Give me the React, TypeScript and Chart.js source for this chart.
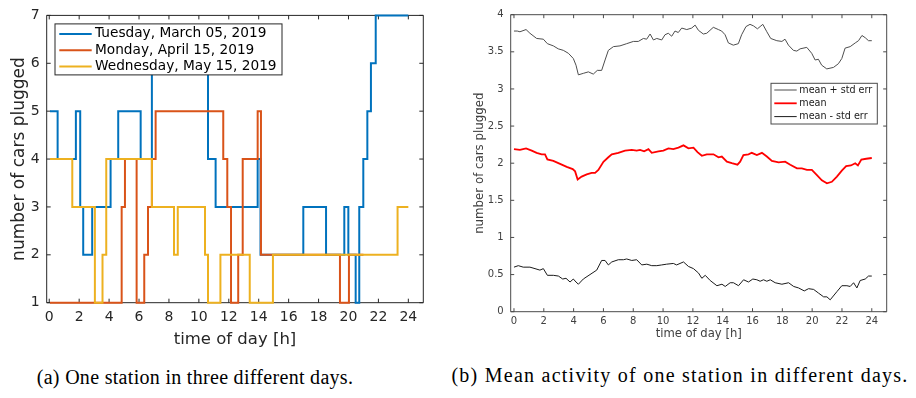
import React, { useEffect, useRef } from 'react';
import { Chart, registerables } from 'chart.js';

Chart.register(...registerables);

// ---------- (a) One station in three different days ----------
const dayLabels = ['Tuesday, March 05, 2019', 'Monday, April 15, 2019', 'Wednesday, May 15, 2019'];
const dayColors = ['#0072BD', '#D95319', '#EDB120'];

const tuesdayTimes = [0.05, 0.56, 1.78, 2.07, 2.27, 2.87, 4.1, 4.61, 6.11, 6.86, 10.61, 11.12, 13.93, 14.12, 16.98, 18.5, 19.72, 19.99, 20.48, 20.72, 20.99, 21.26, 21.5, 21.82, 24.0];
const tuesdayCars = [5, 4, 5, 3, 2, 3, 4, 5, 4, 6, 4, 3, 4, 2, 3, 2, 3, 2, 1, 3, 4, 5, 6, 7, 7];

const mondayTimes = [0.05, 4.84, 5.06, 5.84, 6.35, 6.6, 6.86, 7.11, 11.63, 11.9, 12.15, 12.63, 12.93, 13.93, 14.15, 19.43, 20.03, 21.0];
const mondayCars = [1, 3, 4, 1, 2, 3, 4, 5, 4, 3, 1, 2, 4, 5, 2, 1, 2, 2];

const wednesdayTimes = [0.05, 1.54, 3.05, 3.56, 3.81, 6.86, 8.34, 8.59, 10.41, 10.61, 11.44, 13.4, 14.95, 23.28, 24.0];
const wednesdayCars = [4, 3, 1, 2, 4, 3, 2, 3, 2, 1, 2, 1, 2, 3, 3];

const hourTicks = [0, 2, 4, 6, 8, 10, 12, 14, 16, 18, 20, 22, 24];
const carTicks = [1, 2, 3, 4, 5, 6, 7];

// ---------- (b) Mean activity of one station ----------
const meanLabels = ['mean + std err', 'mean', 'mean - std err'];
const meanColors = ['#4d4d4d', '#ff0000', '#1a1a1a'];

const upperTimes = [0, 0.22, 0.4, 0.81, 1.07, 1.52, 1.97, 2.24, 2.64, 2.97, 3.31, 3.65, 3.98, 4.16, 4.32, 4.65, 4.99, 5.32, 5.59, 5.88, 6.11, 6.33, 6.67, 7.11, 7.56, 8.01, 8.34, 8.68, 8.9, 9.13, 9.35, 9.58, 9.91, 10.13, 10.35, 10.58, 10.8, 11.02, 11.25, 11.59, 11.92, 12.15, 12.37, 12.7, 12.93, 13.37, 13.71, 13.93, 14.16, 14.38, 14.71, 15.05, 15.27, 15.56, 15.83, 16.06, 16.33, 16.51, 16.69, 16.96, 17.22, 17.63, 17.97, 18.18, 18.41, 18.74, 18.97, 19.19, 19.64, 19.97, 20.2, 20.42, 20.64, 20.98, 21.43, 21.76, 21.99, 22.21, 22.55, 22.89, 23.11, 23.34, 23.56, 23.78, 24];
const upperValues = [3.78, 3.78, 3.77, 3.8, 3.75, 3.68, 3.67, 3.61, 3.58, 3.54, 3.52, 3.48, 3.41, 3.32, 3.19, 3.21, 3.23, 3.2, 3.25, 3.25, 3.39, 3.52, 3.57, 3.58, 3.61, 3.64, 3.64, 3.68, 3.67, 3.74, 3.66, 3.68, 3.66, 3.73, 3.75, 3.71, 3.78, 3.76, 3.82, 3.8, 3.82, 3.86, 3.79, 3.74, 3.75, 3.83, 3.8, 3.78, 3.73, 3.62, 3.59, 3.61, 3.73, 3.84, 3.87, 3.85, 3.81, 3.84, 3.87, 3.77, 3.68, 3.65, 3.64, 3.67, 3.59, 3.52, 3.51, 3.54, 3.56, 3.48, 3.39, 3.4, 3.32, 3.27, 3.29, 3.34, 3.41, 3.55, 3.57, 3.62, 3.65, 3.72, 3.69, 3.65, 3.65];

const meanTimes = [0, 0.4, 0.81, 1.19, 1.52, 1.86, 2.08, 2.24, 2.64, 3.09, 3.54, 3.94, 4.1, 4.27, 4.54, 4.88, 5.21, 5.44, 5.66, 6.0, 6.33, 6.56, 7.0, 7.45, 7.9, 8.23, 8.46, 8.73, 9.02, 9.24, 9.69, 10.02, 10.36, 10.69, 11.03, 11.37, 11.7, 12.04, 12.31, 12.6, 12.93, 13.38, 13.72, 13.94, 14.28, 14.61, 14.99, 15.17, 15.39, 15.73, 15.95, 16.29, 16.63, 16.96, 17.3, 17.75, 18.19, 18.53, 18.98, 19.31, 19.65, 19.98, 20.32, 20.65, 20.99, 21.32, 21.66, 21.99, 22.28, 22.6, 22.89, 23.07, 23.3, 23.63, 24];
const meanValues = [2.19, 2.18, 2.2, 2.17, 2.14, 2.12, 2.12, 2.05, 2.03, 1.99, 1.95, 1.92, 1.89, 1.78, 1.82, 1.85, 1.87, 1.87, 1.91, 2.02, 2.08, 2.12, 2.14, 2.17, 2.18, 2.17, 2.18, 2.16, 2.19, 2.14, 2.16, 2.17, 2.2, 2.19, 2.21, 2.24, 2.2, 2.21, 2.15, 2.1, 2.12, 2.12, 2.08, 2.09, 2.02, 2.0, 1.98, 2.02, 2.11, 2.12, 2.14, 2.11, 2.14, 2.09, 2.03, 2.01, 2.02, 1.98, 1.93, 1.93, 1.91, 1.91, 1.84, 1.77, 1.73, 1.75, 1.82, 1.9, 1.96, 1.97, 2.0, 1.97, 2.05, 2.06, 2.07];

const lowerTimes = [0, 0.29, 0.62, 1.07, 1.41, 1.74, 1.97, 2.24, 2.64, 2.98, 3.27, 3.49, 3.76, 3.98, 4.16, 4.32, 4.65, 5.1, 5.55, 5.88, 6.11, 6.33, 6.56, 7.0, 7.34, 7.56, 7.9, 8.23, 8.57, 8.91, 9.24, 9.58, 9.91, 10.24, 10.69, 10.91, 11.37, 11.7, 12.04, 12.38, 12.6, 12.83, 13.16, 13.61, 13.95, 14.17, 14.5, 14.72, 15.06, 15.4, 15.73, 16.02, 16.29, 16.51, 16.74, 16.96, 17.19, 17.52, 17.97, 18.42, 18.76, 19.09, 19.47, 19.76, 20.1, 20.43, 20.77, 20.99, 21.21, 21.66, 21.99, 22.33, 22.55, 22.78, 23.0, 23.22, 23.56, 23.78, 24];
const lowerValues = [0.6, 0.62, 0.6, 0.6, 0.58, 0.56, 0.58, 0.49, 0.49, 0.48, 0.44, 0.45, 0.4, 0.44, 0.4, 0.37, 0.44, 0.5, 0.56, 0.69, 0.69, 0.63, 0.67, 0.7, 0.7, 0.71, 0.69, 0.7, 0.63, 0.64, 0.62, 0.62, 0.63, 0.64, 0.65, 0.63, 0.67, 0.61, 0.58, 0.52, 0.45, 0.49, 0.42, 0.35, 0.37, 0.34, 0.39, 0.39, 0.35, 0.43, 0.4, 0.44, 0.43, 0.41, 0.43, 0.41, 0.43, 0.39, 0.37, 0.39, 0.34, 0.32, 0.28, 0.31, 0.3, 0.25, 0.2, 0.2, 0.16, 0.27, 0.35, 0.35, 0.34, 0.39, 0.32, 0.42, 0.44, 0.48, 0.48];

const meanTicks = [0, 0.5, 1, 1.5, 2, 2.5, 3, 3.5, 4];

const captionA = '(a) One station in three different days.';
const captionB = '(b) Mean activity of one station in different days.';

const pts = (xs: number[], ys: number[]) => xs.map((x, i) => ({ x, y: ys[i] }));

// MATLAB-like box with inward ticks on all four sides, plus a boxed legend
const matlabAxes = {
  id: 'matlabAxes',
  beforeDatasetsDraw(chart: any, _args: any, opts: any) {
    const { ctx, chartArea: a, scales } = chart;
    const x = scales.x;
    const y = scales.y;
    const tl = opts.tickLength;
    ctx.save();
    ctx.strokeStyle = opts.color;
    ctx.lineWidth = opts.lineWidth;
    ctx.beginPath();
    ctx.rect(a.left, a.top, a.right - a.left, a.bottom - a.top);
    for (const t of x.ticks) {
      const px = x.getPixelForValue(t.value);
      ctx.moveTo(px, a.bottom);
      ctx.lineTo(px, a.bottom - tl);
      ctx.moveTo(px, a.top);
      ctx.lineTo(px, a.top + tl);
    }
    for (const t of y.ticks) {
      const py = y.getPixelForValue(t.value);
      ctx.moveTo(a.left, py);
      ctx.lineTo(a.left + tl, py);
      ctx.moveTo(a.right, py);
      ctx.lineTo(a.right - tl, py);
    }
    ctx.stroke();
    ctx.restore();
  },
  afterDatasetsDraw(chart: any, _args: any, opts: any) {
    const lg = opts.legend;
    if (!lg) return;
    const { ctx, chartArea: a } = chart;
    const bx = lg.fromRight != null ? a.right - lg.fromRight - lg.w : a.left + lg.dx;
    const by = a.top + lg.dy;
    ctx.save();
    ctx.fillStyle = '#ffffff';
    ctx.fillRect(bx, by, lg.w, lg.h);
    ctx.strokeStyle = lg.border;
    ctx.lineWidth = 1;
    ctx.strokeRect(bx, by, lg.w, lg.h);
    ctx.font = `${lg.fontSize}px "DejaVu Sans"`;
    ctx.textBaseline = 'middle';
    ctx.textAlign = 'left';
    chart.data.datasets.forEach((ds: any, i: number) => {
      const ry = by + lg.row0 + i * lg.rowGap;
      ctx.strokeStyle = ds.borderColor;
      ctx.lineWidth = ds.borderWidth;
      ctx.beginPath();
      ctx.moveTo(bx + lg.lineX, ry);
      ctx.lineTo(bx + lg.lineX + lg.lineLen, ry);
      ctx.stroke();
      ctx.fillStyle = lg.textColor;
      ctx.fillText(ds.label, bx + lg.textX, ry);
    });
    ctx.restore();
  },
};

const fixedTicks = (values: number[]) => (s: any) => {
  s.ticks = values.map((v) => ({ value: v }));
};

export default function App() {
  const leftRef = useRef<HTMLCanvasElement>(null);
  const rightRef = useRef<HTMLCanvasElement>(null);

  useEffect(() => {
    const axisColor = '#262626';
    const left = new Chart(leftRef.current as HTMLCanvasElement, {
      type: 'line',
      data: {
        datasets: [
          { label: dayLabels[0], data: pts(tuesdayTimes, tuesdayCars), borderColor: dayColors[0], borderWidth: 2, stepped: 'before', pointRadius: 0, order: 3, clip: 3 },
          { label: dayLabels[1], data: pts(mondayTimes, mondayCars), borderColor: dayColors[1], borderWidth: 2, stepped: 'before', pointRadius: 0, order: 2, clip: 3 },
          { label: dayLabels[2], data: pts(wednesdayTimes, wednesdayCars), borderColor: dayColors[2], borderWidth: 2, stepped: 'before', pointRadius: 0, order: 1, clip: 3 },
        ] as any,
      },
      options: {
        responsive: false,
        animation: false,
        devicePixelRatio: 1,
        layout: { padding: { left: 0, top: 13.5, right: 12.7, bottom: 0 } },
        plugins: {
          legend: { display: false },
          tooltip: { enabled: false },
          matlabAxes: {
            color: axisColor,
            lineWidth: 1,
            tickLength: 4,
            legend: { dx: 8.3, dy: 8.5, w: 227, h: 51, row0: 10, rowGap: 16.3, lineX: 4.3, lineLen: 32.4, textX: 40, fontSize: 13.7, border: '#262626', textColor: '#000' },
          },
        } as any,
        scales: {
          x: {
            type: 'linear',
            min: -0.17,
            max: 25,
            afterBuildTicks: fixedTicks(hourTicks),
            afterFit: (s: any) => { s.height = 49.3; },
            grid: { display: false, drawTicks: false },
            border: { display: false },
            ticks: { padding: 6, color: axisColor, font: { family: 'DejaVu Sans', size: 14 }, maxRotation: 0, autoSkip: false, callback: (v: any) => String(v) },
            title: { display: true, text: 'time of day [h]', color: axisColor, font: { family: 'DejaVu Sans', size: 16.5 }, padding: { top: 0, bottom: 2 } },
          },
          y: {
            type: 'linear',
            min: 1,
            max: 7,
            afterBuildTicks: fixedTicks(carTicks),
            afterFit: (s: any) => { s.width = 46.7; },
            grid: { display: false, drawTicks: false },
            border: { display: false },
            ticks: { padding: 7, color: axisColor, font: { family: 'DejaVu Sans', size: 14 }, autoSkip: false, callback: (v: any) => String(v) },
            title: { display: true, text: 'number of cars plugged', color: axisColor, font: { family: 'DejaVu Sans', size: 17 }, padding: { top: 9, bottom: 0 } },
          },
        },
      } as any,
      plugins: [matlabAxes as any],
    });

    const right = new Chart(rightRef.current as HTMLCanvasElement, {
      type: 'line',
      data: {
        datasets: [
          { label: meanLabels[0], data: pts(upperTimes, upperValues), borderColor: meanColors[0], borderWidth: 1, pointRadius: 0 },
          { label: meanLabels[1], data: pts(meanTimes, meanValues), borderColor: meanColors[1], borderWidth: 1.8, pointRadius: 0 },
          { label: meanLabels[2], data: pts(lowerTimes, lowerValues), borderColor: meanColors[2], borderWidth: 1, pointRadius: 0 },
        ] as any,
      },
      options: {
        responsive: false,
        animation: false,
        devicePixelRatio: 1,
        layout: { padding: { left: 0, top: 14.7, right: 29.3, bottom: 0 } },
        plugins: {
          legend: { display: false },
          tooltip: { enabled: false },
          matlabAxes: {
            color: '#4a4a4a',
            lineWidth: 1,
            tickLength: 3.5,
            legend: { fromRight: 9.4, dy: 68.6, w: 106.3, h: 40.7, row0: 6.7, rowGap: 13.3, lineX: 3.3, lineLen: 22.4, textX: 28.3, fontSize: 9.6, border: '#4a4a4a', textColor: '#1a1a1a' },
          },
        } as any,
        scales: {
          x: {
            type: 'linear',
            min: -0.22,
            max: 25,
            afterBuildTicks: fixedTicks(hourTicks),
            afterFit: (s: any) => { s.height = 40.3; },
            grid: { display: false, drawTicks: false },
            border: { display: false },
            ticks: { padding: 4, color: '#404040', font: { family: 'DejaVu Sans', size: 10 }, maxRotation: 0, autoSkip: false, callback: (v: any) => String(v) },
            title: { display: true, text: 'time of day [h]', color: '#404040', font: { family: 'DejaVu Sans', size: 11.6 }, padding: { top: 0, bottom: 11 } },
          },
          y: {
            type: 'linear',
            min: 0,
            max: 4,
            afterBuildTicks: fixedTicks(meanTicks),
            afterFit: (s: any) => { s.width = 70.7; },
            grid: { display: false, drawTicks: false },
            border: { display: false },
            ticks: { padding: 7, color: '#404040', font: { family: 'DejaVu Sans', size: 10 }, autoSkip: false, callback: (v: any) => String(v) },
            title: { display: true, text: 'number of cars plugged', color: '#404040', font: { family: 'DejaVu Sans', size: 11.8 }, padding: { top: 33, bottom: 0 } },
          },
        },
      } as any,
      plugins: [matlabAxes as any],
    });

    return () => {
      left.destroy();
      right.destroy();
    };
  }, []);

  const captionStyle: React.CSSProperties = {
    position: 'absolute',
    whiteSpace: 'nowrap',
    fontFamily: '"Liberation Serif", serif',
    fontSize: 20,
    color: '#000',
    textAlign: 'center',
    lineHeight: '22px',
  };

  return (
    <div style={{ position: 'absolute', left: 0, top: 0, width: 916, height: 398, background: '#fff', overflow: 'hidden' }}>
      <canvas ref={leftRef} width={436} height={352} style={{ position: 'absolute', left: 0, top: 0 }} />
      <canvas ref={rightRef} width={476} height={352} style={{ position: 'absolute', left: 440, top: 0 }} />
      <div style={{ ...captionStyle, left: 0, width: 390, top: 366, letterSpacing: 0.3 }}>{captionA}</div>
      <div style={{ ...captionStyle, left: 440, width: 480, top: 364, letterSpacing: 1.25 }}>{captionB}</div>
    </div>
  );
}
